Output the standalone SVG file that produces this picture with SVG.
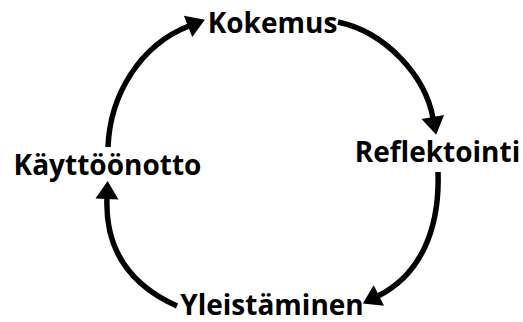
<svg xmlns="http://www.w3.org/2000/svg" width="523" height="322" viewBox="0 0 523 322">
<style>
.lbl{font-family:"Open Sans","Liberation Sans",sans-serif;font-weight:bold;font-size:28px;fill:#000;text-anchor:middle}
.arc{fill:none;stroke:#000;stroke-width:5.5;marker-end:url(#ah)}
</style>
<defs>
<marker id="ah" markerUnits="userSpaceOnUse" markerWidth="19" markerHeight="23" refX="1" refY="11.5" orient="auto" overflow="visible">
<path d="M0,0 L18,11.5 L0,23 z" fill="#000"/>
</marker>
</defs>
<rect width="523" height="322" fill="#fff"/>
<g id="connectors">
<path class="arc" d="M338,22 C385,32 425,75 433,118"/>
<path class="arc" d="M438,172 C440,230 420,275 378,296"/>
<path class="arc" d="M177,306 C130,285 105,250 107,198"/>
<path class="arc" d="M108,147 C110,95 140,45 189,26"/>
</g>
<g id="kokemus"><text class="lbl" x="272.5" y="33">Kokemus</text></g>
<g id="reflektointi"><text class="lbl" x="437.5" y="162">Reflektointi</text></g>
<g id="yleistaminen"><text class="lbl" x="272" y="315">Yleistäminen</text></g>
<g id="kayttoonotto"><text class="lbl" x="107.5" y="175">Käyttöönotto</text></g>
</svg>
